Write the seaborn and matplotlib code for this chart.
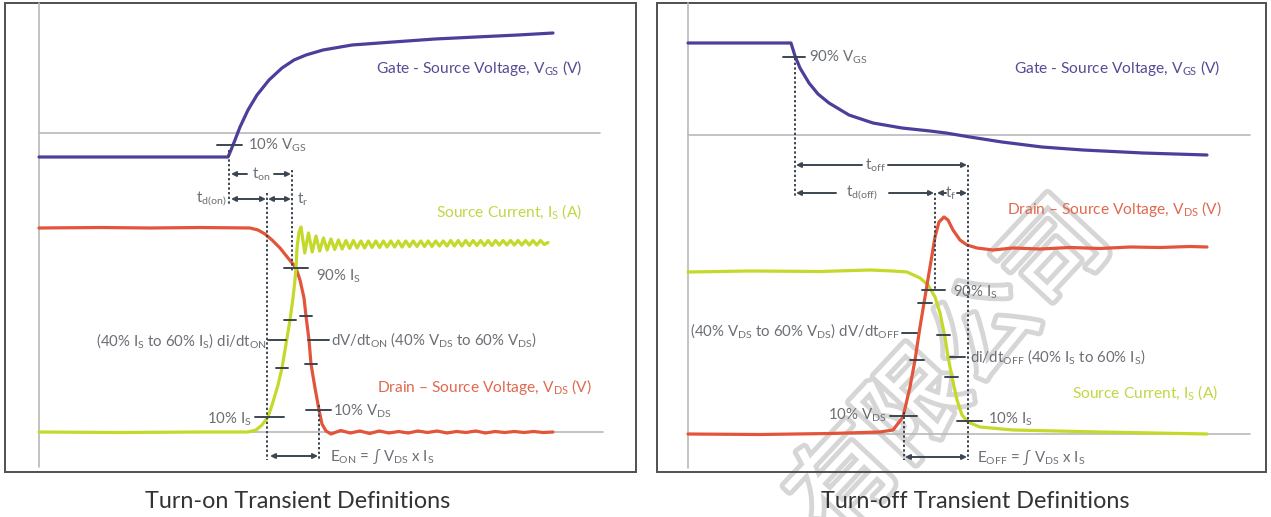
import numpy as np
import pandas as pd
import matplotlib
matplotlib.use("Agg")
import matplotlib.pyplot as plt
import matplotlib.patheffects as pe
from matplotlib.patches import Rectangle
import seaborn as sns

# ---------------- data (pixel space) ----------------
# Turn-on panel
ON_VGS_X = [39, 228, 231, 235, 240, 248, 257, 269, 282, 294, 306, 323, 352, 393, 435, 476, 518, 553]
ON_VGS_Y = [157, 157, 150, 140, 127, 110, 95, 80, 68, 60, 55, 50, 45, 42, 39, 37, 35, 33]

ON_VDS_X = [39, 100, 150, 200, 250, 258, 265, 272, 280, 288, 293, 296, 300, 304, 306, 309, 311, 315, 319, 322, 326, 331]
ON_VDS_Y = [228, 227.5, 228, 227.5, 228, 230, 234, 240, 248, 258, 264, 268, 280, 298, 316, 340, 364, 388, 410, 424, 431, 434]
ON_VDS_TAIL_Y = [432, 430.5, 433, 431, 433.5, 431, 433, 431.5, 433, 431, 432.5, 431, 433, 431.5, 432.5,
                 431, 433, 431.5, 432.5, 431.5, 432.5, 431.5, 432.5, 432]

ON_IS_X = [39, 120, 200, 248, 256, 262, 268, 273, 278, 282, 286, 290, 293, 295, 296, 297, 299, 301]
ON_IS_Y = [432, 432.5, 432, 432, 430, 425, 417, 402, 385, 368, 344, 320, 298, 280, 268, 248, 232, 227]
ON_IS_RING_Y = [227, 253, 233, 252, 236, 251, 238, 250, 239, 249.5, 240, 249, 240.5, 248.5, 240.5, 248,
                241, 248, 241, 247.5, 241, 247.5, 241, 247, 241, 247, 241, 247, 241, 246.5, 241, 246.5,
                241, 246.5, 241, 246.5, 241, 246, 241, 246, 240.5, 246, 240.5, 246, 240.5, 245.5, 240.5, 245.5,
                240.5, 245.5, 240.5, 245.5, 240.5, 245, 240.5, 245, 240.5, 245, 240.5, 245, 240.5, 245, 240.5, 245,
                240.5, 244.5, 242.5]

# Turn-off panel
OFF_VGS_X = [688, 791, 795, 800, 809, 818, 829, 849, 873, 902, 930, 946, 970, 1002, 1042, 1083, 1143, 1207]
OFF_VGS_Y = [43, 43, 56, 68, 83, 94, 103, 115, 123, 128, 131, 133, 137, 142, 147, 150, 153, 155]

OFF_VDS_X = [688, 760, 830, 880, 893, 903, 910, 915, 920, 925, 930, 935, 939, 944, 948, 953, 960, 967,
             977, 993, 1013, 1040, 1070, 1100, 1130, 1160, 1190, 1207]
OFF_VDS_Y = [434, 434.5, 433.5, 432, 430, 417, 387, 360, 327, 297, 267, 237, 222, 217, 220, 230, 240, 245,
             248, 250, 248, 249, 247.5, 248.5, 247, 247.5, 246.5, 247]

OFF_IS_X = [688, 750, 820, 870, 893, 907, 920, 928, 935, 940, 945, 948, 952, 957, 962, 968, 980, 1013, 1100, 1207]
OFF_IS_Y = [272, 271, 271.5, 270, 271, 272, 278, 285, 297, 313, 337, 357, 377, 400, 415, 422, 427, 430, 432, 434]

# threshold tick marks: (x_start, x_end, y)
ON_TICKS = [(217, 242, 145), (284, 308, 268), (284, 296, 320), (276, 288, 368), (300, 312, 316),
            (305, 317, 364), (306, 331, 410), (255, 284, 417), (268, 286, 340), (308, 329, 340)]
OFF_TICKS = [(783, 805, 57), (922, 945, 290), (918, 932, 303), (910, 924, 360), (937, 950, 335),
             (945, 958, 377), (890, 917, 416), (957, 982, 421), (902, 917, 333), (950, 965, 357)]

# dotted time markers: (x, y_start, y_end)
ON_MARKERS = [(229, 150, 205), (267, 193, 460), (292, 170, 272), (319, 405, 460)]
OFF_MARKERS = [(795, 58, 196), (968, 165, 460), (935, 193, 290), (904, 412, 460)]

WATERMARK = "有限公司"

COL_VGS = "#4a3f9a"
COL_VDS = "#e2553a"
COL_IS = "#c5d92b"
COL_TXT = "#6b6f74"
COL_DARK = "#3b4652"
COL_GRID = "#b9b9b9"

# ---------------- figure ----------------
sns.set_theme(style="white")
plt.rcParams["font.family"] = ["Lato", "DejaVu Sans"]
plt.rcParams["mathtext.fontset"] = "custom"
plt.rcParams["mathtext.rm"] = "Lato"
plt.rcParams["mathtext.it"] = "Lato"
plt.rcParams["mathtext.bf"] = "Lato:bold"
plt.rcParams["mathtext.default"] = "regular"

fig = plt.figure(figsize=(12.71, 5.17), dpi=100)
ax = fig.add_axes([0, 0, 1, 1])

# panel frames and reference lines
for (x0, x1) in [(5, 636), (657, 1266)]:
    ax.add_patch(Rectangle((x0, 3), x1 - x0, 469, fill=False, ec="#505050", lw=1.4, zorder=1))
ax.plot([39, 39], [3, 467], color=COL_GRID, lw=1.2, zorder=1)
ax.plot([688, 688], [3, 468], color=COL_GRID, lw=1.2, zorder=1)
ax.plot([39, 600], [133, 133], color=COL_GRID, lw=1.2, zorder=1)
ax.plot([39, 603], [432, 432], color=COL_GRID, lw=1.2, zorder=1)
ax.plot([688, 1250], [135, 135], color=COL_GRID, lw=1.2, zorder=1)
ax.plot([688, 1250], [434, 434], color=COL_GRID, lw=1.2, zorder=1)

# watermark (hollow outlined characters)
ax.text(952, 370, WATERMARK, rotation=47, fontsize=74, family=["Noto Sans CJK SC"],
        fontweight="light", color="white", ha="center", va="center", rotation_mode="anchor",
        zorder=0.5, path_effects=[pe.withStroke(linewidth=7, foreground="#d6d6d6")])

# curves
ring_x = np.linspace(301, 548, len(ON_IS_RING_Y))
tail_x = np.linspace(331, 553, len(ON_VDS_TAIL_Y))
curves = [
    ("on_vgs", ON_VGS_X, ON_VGS_Y, COL_VGS),
    ("on_vds", list(ON_VDS_X) + list(tail_x[1:]), list(ON_VDS_Y) + list(ON_VDS_TAIL_Y[1:]), COL_VDS),
    ("on_is", list(ON_IS_X) + list(ring_x[1:]), list(ON_IS_Y) + list(ON_IS_RING_Y[1:]), COL_IS),
    ("off_vgs", OFF_VGS_X, OFF_VGS_Y, COL_VGS),
    ("off_is", OFF_IS_X, OFF_IS_Y, COL_IS),
    ("off_vds", OFF_VDS_X, OFF_VDS_Y, COL_VDS),
]
frames = []
for name, xs, ys, _ in curves:
    frames.append(pd.DataFrame({"curve": name, "x": xs, "y": ys}))
df = pd.concat(frames, ignore_index=True)
for name, _, _, col in curves:
    sub = df[df["curve"] == name]
    sns.lineplot(data=sub, x="x", y="y", sort=False, estimator=None, color=col,
                 lw=2.3, ax=ax, zorder=3, solid_capstyle="round", solid_joinstyle="round")
ax.set_xlim(0, 1271)
ax.set_ylim(517, 0)
ax.axis("off")

# dotted markers
for (x, y0, y1) in ON_MARKERS + OFF_MARKERS:
    ax.plot([x, x], [y0, y1], color=COL_DARK, lw=1.4, ls=(0, (1.2, 1.2)), zorder=4)

# ticks
for (x0, x1, y) in ON_TICKS + OFF_TICKS:
    ax.plot([x0, x1], [y, y], color=COL_DARK, lw=1.4, zorder=5)


def arrow(x0, x1, y, style="-|>"):
    ax.annotate("", xy=(x1, y), xytext=(x0, y),
                arrowprops=dict(arrowstyle=style, color=COL_DARK, lw=1.4, mutation_scale=7,
                                shrinkA=0, shrinkB=0), zorder=5)


# turn-on arrows
arrow(247, 231, 174)
arrow(274, 291, 174)
arrow(231, 266, 199, "<|-|>")
arrow(268, 291, 199, "<|-|>")
arrow(270, 318, 456, "<|-|>")
# turn-off arrows
arrow(862, 796, 165)
arrow(888, 967, 165)
arrow(836, 796, 193)
arrow(889, 934, 193)
arrow(946, 937, 193)
arrow(957, 967, 193)
arrow(905, 967, 457, "<|-|>")

FS = 10.8
LFS = 11.2
txt = dict(color=COL_TXT, fontsize=FS, va="center")
# turn-on labels
ax.text(582, 68, "Gate - Source Voltage, V$_{GS}$ (V)", ha="right", color="#574a94", fontsize=LFS, va="center")
ax.text(248, 145, "10% V$_{GS}$", ha="left", **txt)
ax.text(261, 174, "t$_{on}$", ha="center", **txt)
ax.text(226, 199, "t$_{d(on)}$", ha="right", **txt)
ax.text(297, 199, "t$_{r}$", ha="left", **txt)
ax.text(582, 212, "Source Current, I$_{S}$ (A)", ha="right", color="#c3d545", fontsize=LFS, va="center")
ax.text(316, 276, "90% I$_{S}$", ha="left", **txt)
ax.text(267, 341, "(40% I$_{S}$ to 60% I$_{S}$) di/dt$_{ON}$", ha="right", **txt)
ax.text(331, 340, "dV/dt$_{ON}$ (40% V$_{DS}$ to 60% V$_{DS}$)", ha="left", **txt)
ax.text(592, 387, "Drain – Source Voltage, V$_{DS}$ (V)", ha="right", color="#e0694f", fontsize=LFS, va="center")
ax.text(333, 411, "10% V$_{DS}$", ha="left", **txt)
ax.text(252, 419, "10% I$_{S}$", ha="right", **txt)
ax.text(330, 456, "E$_{ON}$ = ∫ V$_{DS}$ x I$_{S}$", ha="left", **txt)
ax.text(298, 502, "Turn-on Transient Definitions", ha="center", va="center", color="#333333", fontsize=16.8)

# turn-off labels
ax.text(1220, 68, "Gate - Source Voltage, V$_{GS}$ (V)", ha="right", color="#574a94", fontsize=LFS, va="center")
ax.text(809, 57, "90% V$_{GS}$", ha="left", **txt)
ax.text(875, 165, "t$_{off}$", ha="center", **txt)
ax.text(862, 193, "t$_{d(off)}$", ha="center", **txt)
ax.text(951, 193, "t$_{f}$", ha="center", **txt)
ax.text(1222, 209, "Drain – Source Voltage, V$_{DS}$ (V)", ha="right", color="#e0694f", fontsize=LFS, va="center")
ax.text(953, 292, "90% I$_{S}$", ha="left", **txt)
ax.text(900, 331, "(40% V$_{DS}$ to 60% V$_{DS}$) dV/dt$_{OFF}$", ha="right", **txt)
ax.text(970, 357, "di/dt$_{OFF}$ (40% I$_{S}$ to 60% I$_{S}$)", ha="left", **txt)
ax.text(1218, 393, "Source Current, I$_{S}$ (A)", ha="right", color="#c3d545", fontsize=LFS, va="center")
ax.text(887, 415, "10% V$_{DS}$", ha="right", **txt)
ax.text(988, 419, "10% I$_{S}$", ha="left", **txt)
ax.text(977, 457, "E$_{OFF}$ = ∫ V$_{DS}$ x I$_{S}$", ha="left", **txt)
ax.text(975, 502, "Turn-off Transient Definitions", ha="center", va="center", color="#333333", fontsize=16.8)

fig.savefig("out.png", dpi=100)
